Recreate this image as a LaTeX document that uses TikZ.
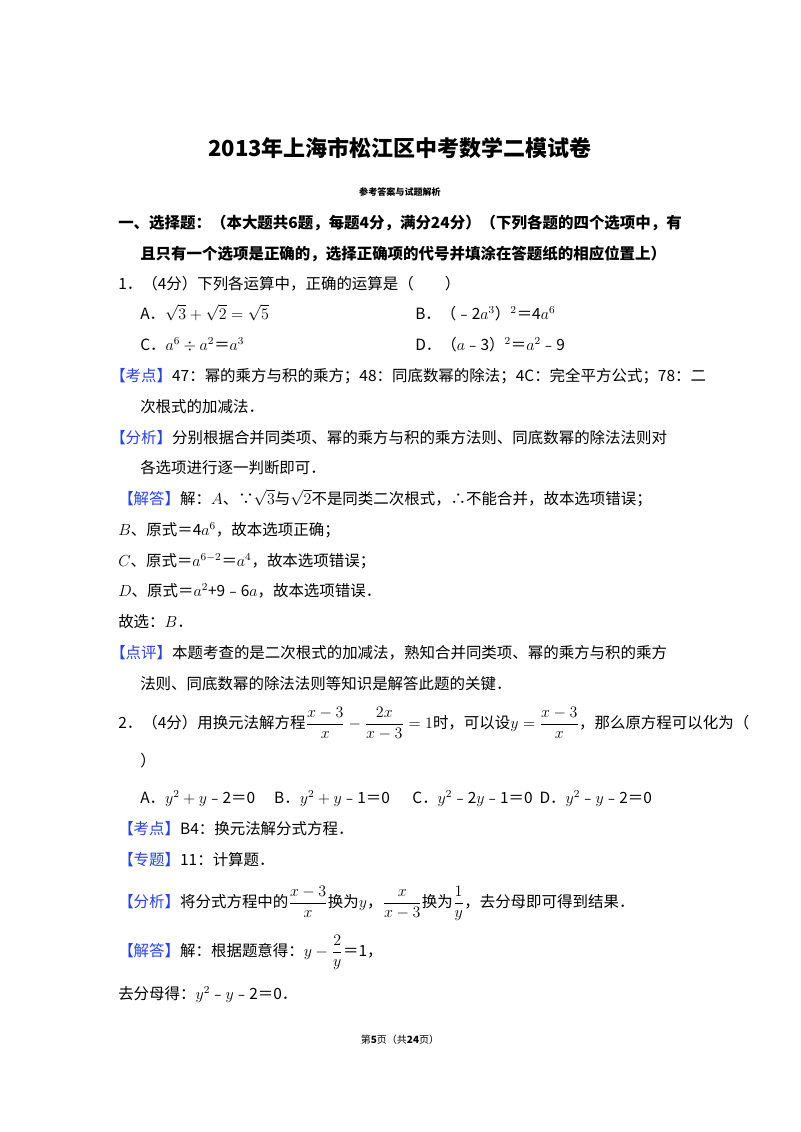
\documentclass[tikz,border=0pt]{standalone}
\usepackage{fontspec}
\setmainfont{Noto Sans CJK SC}
\usepackage{amsmath}
\definecolor{kwblue}{rgb}{0.15,0.25,0.95}
\newcommand{\kw}[1]{\textcolor{kwblue}{【#1】}}
\tikzset{
  ln/.style={anchor=base west, inner sep=0pt, font=\fontsize{11.6pt}{14pt}\selectfont},
  hd/.style={ln, font=\fontsize{11.6pt}{14pt}\selectfont\bfseries},
}
\begin{document}
\begin{tikzpicture}[x=0.75pt,y=-0.75pt]
\useasboundingbox (0,0) rectangle (800,1132);
% header
\node[inner sep=0pt, font=\fontsize{16.5pt}{20pt}\selectfont\bfseries] (title) at (400,148) {2013年上海市松江区中考数学二模试卷};
\node[inner sep=0pt, font=\fontsize{6.8pt}{8pt}\selectfont\bfseries] (sub) at (400,192) {参考答案与试题解析};
\node[hd] (h1) at (118,228) {一、选择题：（本大题共6题，每题4分，满分24分）（下列各题的四个选项中，有};
\node[hd] (h2) at (140,259) {且只有一个选项是正确的，选择正确项的代号并填涂在答题纸的相应位置上）};
% question 1
\node[ln] (q1) at (118,289) {1．（4分）下列各运算中，正确的运算是（\quad\quad）};
\node[ln] (q1a) at (140,319) {A．$\sqrt{3}+\sqrt{2}=\sqrt{5}$};
\node[ln] (q1b) at (415,319) {B．（﹣2$a^{3}$）$^{2}$＝4$a^{6}$};
\node[ln] (q1c) at (140,350) {C．$a^{6}\div a^{2}$＝$a^{3}$};
\node[ln] (q1d) at (415,350) {D．（$a$﹣3）$^{2}$＝$a^{2}$﹣9};
\node[ln] (k1) at (110,381) {\kw{考点}47：幂的乘方与积的乘方；48：同底数幂的除法；4C：完全平方公式；78：二};
\node[ln] (k1b) at (140,412) {次根式的加减法．};
\node[ln] (f1) at (110,443) {\kw{分析}分别根据合并同类项、幂的乘方与积的乘方法则、同底数幂的除法法则对};
\node[ln] (f1b) at (140,473) {各选项进行逐一判断即可．};
\node[ln] (j1) at (118,504) {\kw{解答}解：$A$、∵$\sqrt{3}$与$\sqrt{2}$不是同类二次根式，∴不能合并，故本选项错误；};
\node[ln] (j1b) at (118,535) {$B$、原式＝4$a^{6}$，故本选项正确；};
\node[ln] (j1c) at (118,566) {$C$、原式＝$a^{6-2}$＝$a^{4}$，故本选项错误；};
\node[ln] (j1d) at (118,596) {$D$、原式＝$a^{2}$+9﹣6$a$，故本选项错误．};
\node[ln] (g1) at (118,627) {故选：$B$．};
\node[ln] (p1) at (110,658) {\kw{点评}本题考查的是二次根式的加减法，熟知合并同类项、幂的乘方与积的乘方};
\node[ln] (p1b) at (140,689) {法则、同底数幂的除法法则等知识是解答此题的关键．};
% question 2
\node[ln] (q2) at (118,728) {2．（4分）用换元法解方程$\dfrac{x-3}{x}-\dfrac{2x}{x-3}=1$时，可以设$y=\dfrac{x-3}{x}$，那么原方程可以化为（};
\node[ln] (q2b) at (140,766) {）};
\node[ln] (q2a) at (140,803) {A．$y^{2}+y$﹣2＝0\quad\ B．$y^{2}+y$﹣1＝0\quad\ \ C．$y^{2}$﹣2$y$﹣1＝0\ \ D．$y^{2}$﹣$y$﹣2＝0};
\node[ln] (k2) at (118,834) {\kw{考点}B4：换元法解分式方程．};
\node[ln] (z2) at (118,865) {\kw{专题}11：计算题．};
\node[ln] (f2) at (118,907) {\kw{分析}将分式方程中的$\dfrac{x-3}{x}$换为$y$，$\dfrac{x}{x-3}$换为$\dfrac{1}{y}$，去分母即可得到结果．};
\node[ln] (j2) at (118,956) {\kw{解答}解：根据题意得：$y-\dfrac{2}{y}$＝1，};
\node[ln] (j2b) at (118,999) {去分母得：$y^{2}$﹣$y$﹣2＝0．};
% footer
\node[inner sep=0pt, font=\fontsize{7.5pt}{9pt}\selectfont] (foot) at (400,1040) {第\textbf{5}页（共\textbf{24}页）};
\end{tikzpicture}
\end{document}
